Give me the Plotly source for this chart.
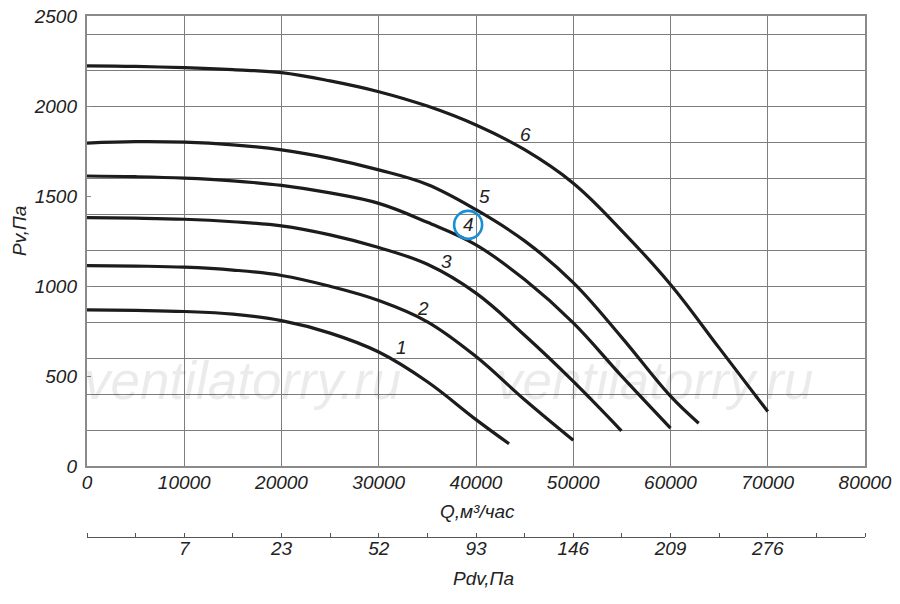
import plotly.graph_objects as go

# fan curves, Q in m3/h, Pv in Pa
q1 = [0, 5000, 10000, 15000, 20000, 25000, 30000, 35000, 40000, 43400]
p1 = [869, 866, 860, 845, 809, 740, 635, 470, 260, 126]

q2 = [0, 5000, 10000, 15000, 20000, 25000, 30000, 35000, 40000, 45000, 50000]
p2 = [1115, 1112, 1106, 1090, 1060, 1000, 921, 803, 610, 370, 145]

q3 = [0, 5000, 10000, 15000, 20000, 25000, 30000, 35000, 40000, 45000, 50000, 54950]
p3 = [1381, 1378, 1372, 1358, 1335, 1285, 1215, 1122, 962, 728, 472, 198]

q4 = [0, 5000, 10000, 15000, 20000, 25000, 30000, 35000, 40000, 45000, 50000, 55000, 60000]
p4 = [1612, 1608, 1600, 1585, 1560, 1518, 1460, 1355, 1230, 1037, 797, 500, 213]

q5 = [0, 5000, 10000, 15000, 20000, 25000, 30000, 35000, 40000, 45000, 50000, 55000, 60000, 62900]
p5 = [1795, 1803, 1800, 1785, 1757, 1710, 1646, 1565, 1425, 1252, 1020, 715, 390, 240]

q6 = [0, 5000, 10000, 15000, 20000, 25000, 30000, 35000, 40000, 45000, 50000, 55000, 60000, 65000, 70000]
p6 = [2223, 2220, 2213, 2202, 2186, 2140, 2080, 2000, 1895, 1758, 1572, 1308, 1010, 658, 305]

curves = [(q1, p1), (q2, p2), (q3, p3), (q4, p4), (q5, p5), (q6, p6)]

# curve numbers and where they sit
label_text = ["1", "2", "3", "4", "5", "6"]
label_q = [32300, 34570, 36930, 39190, 40840, 45050]
label_p = [658, 875, 1135, 1341, 1496, 1840]
circled = "4"

# dynamic pressure scale under the Q axis
pdv_q = [10000, 20000, 30000, 40000, 50000, 60000, 70000]
pdv_text = ["7", "23", "52", "93", "146", "209", "276"]

FONT = "Liberation Sans"
tick_font = dict(family=FONT, size=19, color="#222", style="italic")
grid_col = "#7d7d7d"

fig = go.Figure()

for q, p in curves:
    fig.add_trace(go.Scatter(x=q, y=p, mode="lines",
                             line=dict(color="#1c1c1c", width=3.2, shape="spline", smoothing=1.1),
                             showlegend=False, hoverinfo="skip"))

# empty traces so the extra axes get drawn
fig.add_trace(go.Scatter(x=[], y=[], xaxis="x", yaxis="y3", showlegend=False))
fig.add_trace(go.Scatter(x=[], y=[], xaxis="x2", yaxis="y2", showlegend=False))

# page has an 8px body margin, so the figure is drawn 8px smaller
ybot = 0.1354

fig.update_layout(
    width=892, height=596,
    margin=dict(l=79, r=35, t=8, b=67),
    paper_bgcolor="white", plot_bgcolor="white",
    font=dict(family=FONT, color="#222"),
    xaxis=dict(range=[0, 80000], dtick=10000, tickformat="d", showgrid=True, gridcolor=grid_col, gridwidth=1,
               showline=True, linecolor="#8a8a8a", linewidth=1.6, mirror=True, zeroline=False,
               ticks="", ticklen=0, tickfont=tick_font, anchor="y", automargin=False, ticklabelstandoff=-2,
               ticklabeloverflow="allow"),
    yaxis=dict(range=[0, 2500], dtick=200, showgrid=True, gridcolor=grid_col, gridwidth=1,
               showticklabels=False, showline=True, linecolor="#8a8a8a", linewidth=1.6, mirror=True,
               zeroline=False, domain=[ybot, 1], ticks="", automargin=False),
    yaxis3=dict(range=[0, 2500], dtick=500, overlaying="y", side="left", showgrid=False, zeroline=False,
                ticks="inside", ticklen=4, tickcolor="#888", tickfont=tick_font, ticklabelstandoff=9,
                automargin=False, ticklabeloverflow="allow"),
    xaxis2=dict(range=[0, 80000], tickvals=pdv_q, ticktext=pdv_text, ticks="", ticklen=0, showgrid=False,
                zeroline=False, showline=True, linecolor="#555", linewidth=1.4, anchor="y2",
                tickfont=tick_font, automargin=False, ticklabelstandoff=-6, ticklabeloverflow="allow",
                minor=dict(dtick=5000, tick0=0, ticks="inside", ticklen=4, tickcolor="#555", showgrid=False)),
    yaxis2=dict(domain=[0, 0.002], visible=False, range=[0, 1]),
)

for t, q, p in zip(label_text, label_q, label_p):
    fig.add_annotation(x=q, y=p, text=t, showarrow=False, xanchor="center", yanchor="middle",
                       font=dict(family=FONT, size=19, color="#222", style="italic"))
    if t == circled:
        fig.add_shape(type="circle", xref="x", yref="y", xsizemode="pixel", ysizemode="pixel",
                      xanchor=q, yanchor=p, x0=-14, x1=14, y0=-14, y1=14,
                      line=dict(color="#1a8fd6", width=2.6))

# axis titles
title_font = dict(family=FONT, size=19, color="#222", style="italic")
fig.add_annotation(text="Pv,Па", xref="paper", yref="paper", x=-0.086, y=0.5876, textangle=-90,
                   xanchor="center", yanchor="middle", showarrow=False, font=title_font)
fig.add_annotation(text="Q,м³/час", xref="paper", yref="paper", x=0.502, y=0.0485,
                   xanchor="center", yanchor="middle", showarrow=False, font=title_font)
fig.add_annotation(text="Pdv,Па", xref="paper", yref="paper", x=0.51, y=-0.08,
                   xanchor="center", yanchor="middle", showarrow=False, font=title_font)

# watermark
for wx in [0.2, 0.73]:
    fig.add_annotation(text="ventilatorry.ru", xref="paper", yref="paper", x=wx, y=0.30,
                       xanchor="center", yanchor="middle", showarrow=False,
                       font=dict(family=FONT, size=53, color="rgba(0,0,0,0.08)", style="italic"))

fig.write_html("out.html")
